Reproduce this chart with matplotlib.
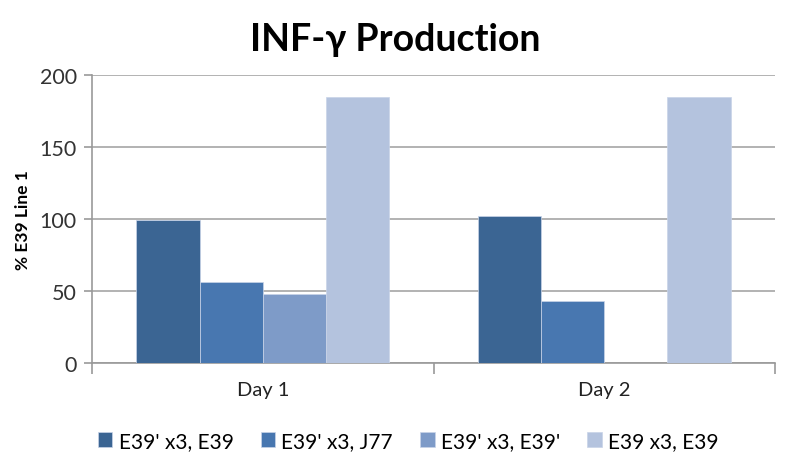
import matplotlib
matplotlib.use("Agg")
import matplotlib.pyplot as plt
import numpy as np

# data
days = ["Day 1", "Day 2"]
series_names = ["E39' x3, E39", "E39' x3, J77", "E39' x3, E39'", "E39 x3, E39"]
e39x3_e39 = [99, 102]
e39x3_j77 = [56.5, 43]
e39x3_e39p = [48, np.nan]
e39_x3_e39 = [185, 185]
colors = ["#3B6593", "#4877B0", "#7E9BC8", "#B4C3DE"]

plt.rcParams['font.family'] = ['Lato', 'DejaVu Sans']

fig = plt.figure(figsize=(7.9, 4.6), dpi=100)
ax = fig.add_axes([0.1165, 0.2087, 0.8645, 0.6261])

x = np.arange(len(days))
w = 0.185
all_series = [e39x3_e39, e39x3_j77, e39x3_e39p, e39_x3_e39]
for i, (vals, name, c) in enumerate(zip(all_series, series_names, colors)):
    ax.bar(x + (i - 1.5) * w, vals, w, color=c, label=name, zorder=3,
           edgecolor="#C9D4E8", linewidth=0.5)

ax.set_xlim(-0.5, 1.5)
ax.set_ylim(0, 200)
ax.set_yticks([0, 50, 100, 150, 200])
ax.grid(axis='y', color='#A6A6A6', linewidth=1.2, zorder=0)

ax.set_xticks(x)
ax.set_xticklabels(days)
ax.set_xticks([-0.5, 0.5, 1.5], minor=True)
ax.tick_params(axis='x', which='major', length=0, labelsize=14.5, pad=13, labelcolor='#222222')
ax.tick_params(axis='x', which='minor', length=8, color='#999999', width=1.2)
ax.tick_params(axis='y', length=6, color='#999999', width=1.2, labelsize=15.5,
               labelcolor='#333333', pad=5)

for s in ['top', 'right']:
    ax.spines[s].set_visible(False)
for s in ['left', 'bottom']:
    ax.spines[s].set_color('#999999')
    ax.spines[s].set_linewidth(1.2)

ax.set_ylabel('% E39 Line 1', fontsize=12.5, fontweight='bold', labelpad=6)
fig.suptitle('INF-\u03b3 Production', fontsize=27, fontweight='bold', y=0.95)

ax.legend(loc='upper center', bbox_to_anchor=(0.463, -0.17), ncol=4, frameon=False,
          fontsize=15, handlelength=0.7, handleheight=0.7, handletextpad=0.3,
          columnspacing=1.3)

fig.savefig('out.png', dpi=100)
